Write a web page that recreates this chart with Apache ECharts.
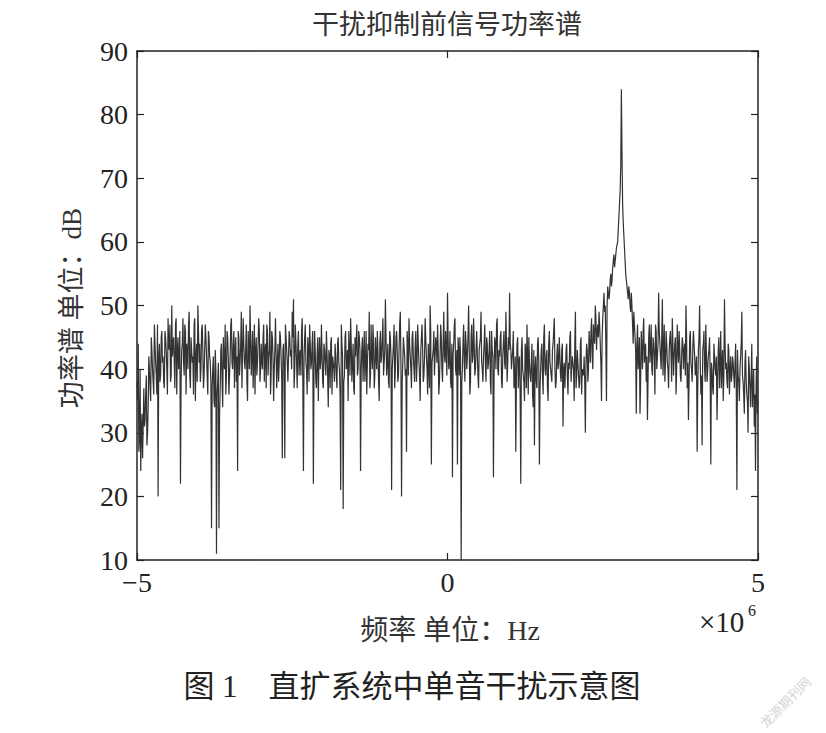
<!DOCTYPE html>
<html>
<head>
<meta charset="utf-8">
<script src="https://cdn.jsdelivr.net/npm/echarts@6/dist/echarts.min.js"></script>
<style>
html,body{margin:0;padding:0;background:#fff;}
#chart{width:826px;height:733px;}
</style>
</head>
<body>
<div id="chart"></div>
<script>
// Frequency bins (MHz, i.e. x10^6 Hz): even bins at -5 + 0.02*i, odd bins half a step later
const freqStart = -5;
const freqStep = 0.01;
// Power spectrum values (dB) on the even bins
const powerDbEven = [
38,44,29,24,33,26,31,36,28,34,40,35,43,38,47,41,36,20,44,39,
46,42,37,45,40,48,43,38,50,44,41,47,36,45,42,22,43,48,39,46,
44,40,49,37,45,42,47,35,44,50,41,38,46,43,39,47,42,36,45,41,
15,40,35,43,11,38,15,37,44,34,41,47,39,45,36,42,48,40,46,43,
38,24,45,41,49,37,44,40,47,35,43,50,39,46,42,36,45,41,48,38,
44,40,47,43,37,46,42,49,39,45,35,43,48,41,38,46,42,26,44,26,
47,41,38,45,43,49,51,40,44,37,46,42,39,48,24,45,41,36,43,47,
40,44,22,46,38,42,35,45,41,47,37,43,39,46,34,42,44,36,41,38,
42,37,45,40,21,44,18,39,46,41,35,43,48,38,44,36,42,47,40,45,
24,43,38,46,41,36,44,49,39,42,47,37,45,40,43,35,46,42,48,41,
51,39,44,37,45,21,42,47,40,46,38,43,49,20,41,45,39,27,44,48,
42,37,46,40,44,38,47,41,35,45,43,39,48,42,36,44,50,25,41,46,
39,44,47,36,42,45,38,49,41,43,52,40,46,37,23,44,48,39,25,43,
45,9,40,47,38,44,42,50,36,45,41,48,39,43,46,37,44,49,40,42,
47,38,44,41,46,36,43,23,45,40,48,39,42,46,37,44,41,49,38,45,
52,43,40,46,38,27,44,37,42,22,45,39,35,43,47,36,41,38,44,34,
28,42,37,45,25,40,44,36,47,39,43,35,46,41,38,44,48,37,42,40,
45,39,43,31,41,37,44,36,40,46,38,42,35,49,39,41,37,44,36,40,
42,30,44,38,46,41,48,40,45,50,43,47,49,44,35,48,52,50,35,53,
51,54,53,56,58,57,59,60,64,68,84,66,61,57,54,52,53,50,52,47,
49,45,33,47,42,33,46,40,48,43,38,32,45,41,47,39,44,36,46,42,
52,44,40,51,43,38,46,41,37,45,42,48,39,44,36,47,41,43,38,45,
40,44,50,37,32,45,41,38,46,42,39,27,43,50,36,28,44,40,47,38,
42,45,25,40,36,44,39,32,43,37,46,41,35,51,40,38,44,36,42,39,
41,37,44,21,39,35,42,49,38,33,43,36,30,40,34,44,37,31,24,42,35
];
// Power spectrum values (dB) on the odd bins
const powerDbOdd = [
35,27,40,30,26,37,32,39,30,42,37,45,40,36,44,39,47,42,38,45,
41,38,46,43,36,44,47,39,42,45,37,48,43,40,46,38,44,41,47,36,
43,47,39,45,41,36,48,42,38,46,44,40,47,37,43,45,39,46,42,38,
37,42,34,40,36,41,33,43,38,45,40,36,46,42,39,47,41,44,37,45,
42,46,39,44,37,48,41,43,38,46,40,45,42,37,47,43,39,44,46,40,
41,45,38,44,47,39,43,36,46,42,40,48,37,44,41,45,39,43,40,47,
43,38,46,42,40,45,37,47,41,44,39,43,46,38,42,47,40,45,38,44,
41,46,39,43,37,45,42,40,47,38,44,41,46,39,43,37,45,42,40,44,
39,44,41,36,47,42,38,45,40,43,46,39,44,41,37,45,42,39,46,43,
40,45,42,38,46,41,43,37,47,40,44,39,42,46,38,44,41,45,39,43,
45,41,38,46,42,40,44,37,45,43,39,47,41,38,45,42,40,46,39,44,
40,45,42,38,46,41,44,39,43,47,38,42,45,40,44,37,46,41,43,39,
45,41,43,38,47,40,44,42,46,39,45,41,38,44,42,47,40,43,45,39,
42,38,44,41,46,40,45,43,38,47,42,44,40,46,39,43,45,41,38,44,
41,45,40,43,38,46,42,39,44,47,40,43,45,38,42,46,40,44,41,43,
44,40,43,37,42,39,45,41,36,43,40,38,44,37,42,45,39,41,36,43,
40,38,44,41,37,43,39,45,40,42,37,44,41,39,43,46,40,38,44,41,
42,38,44,40,37,43,39,41,45,38,42,40,44,37,43,41,38,45,40,39,
38,41,43,40,44,46,42,47,44,48,46,45,47,41,45,50,49,44,50,52,
52,55,54,57,56,58,59,62,66,72,74,63,59,55,53,51,52,49,50,44,
47,43,44,40,45,38,43,46,41,44,42,39,47,43,40,45,42,47,40,44,
46,42,45,39,47,41,44,40,43,46,38,44,42,45,40,43,46,39,42,44,
43,39,45,41,38,46,40,43,44,39,42,37,45,41,39,43,46,38,42,40,
43,39,41,37,44,40,42,38,45,41,37,43,39,44,41,37,43,40,38,42,
39,41,37,43,38,40,44,39,36,41,38,35,42,37,39,34,40,36,38,33
];
const xTicks = [-5, 0, 5];
const yTicks = [10, 20, 30, 40, 50, 60, 70, 80, 90];

const titleText = '干扰抑制前信号功率谱';
const xName = '频率 单位：Hz';
const yName = '功率谱 单位：dB';
const captionText = '图 1　直扩系统中单音干扰示意图';
const watermark = '龙源期刊网';

const seriesData = [];
powerDbEven.forEach((v, i) => {
  seriesData.push([freqStart + 2 * i * freqStep, v]);
  if (i < powerDbOdd.length) seriesData.push([freqStart + (2 * i + 1) * freqStep, powerDbOdd[i]]);
});

const serif = '"Liberation Serif", "DejaVu Serif", serif';
const cjk = '"Liberation Serif", "Noto Sans CJK SC", sans-serif';
const axisColor = '#222';

function xAxisCfg(pos, showLabel) {
  return {
    type: 'value', position: pos,
    min: xTicks[0], max: xTicks[xTicks.length - 1], interval: 5,
    axisLine: {show: true, onZero: false, lineStyle: {color: axisColor, width: 1.5}},
    axisTick: {show: true, inside: true, length: 7, lineStyle: {color: axisColor, width: 1.2}},
    axisLabel: {show: showLabel, color: '#222', fontFamily: serif, fontSize: 28, margin: 8,
      formatter: v => (v < 0 ? '\u2212' + Math.abs(v) : String(v))},
    splitLine: {show: false}
  };
}
function yAxisCfg(pos, showLabel) {
  return {
    type: 'value', position: pos,
    min: yTicks[0], max: yTicks[yTicks.length - 1], interval: 10,
    axisLine: {show: true, onZero: false, lineStyle: {color: axisColor, width: 1.5}},
    axisTick: {show: true, inside: true, length: 7, lineStyle: {color: axisColor, width: 1.2}},
    axisLabel: {show: showLabel, color: '#222', fontFamily: serif, fontSize: 28, margin: 9},
    splitLine: {show: false}
  };
}

const chart = echarts.init(document.getElementById('chart'), null, {renderer: 'svg'});
chart.setOption({
  animation: false,
  backgroundColor: '#fff',
  grid: {left: 137, right: 68, top: 51, bottom: 173},
  xAxis: [xAxisCfg('bottom', true), xAxisCfg('top', false)],
  yAxis: [yAxisCfg('left', true), yAxisCfg('right', false)],
  series: [{
    type: 'line', data: seriesData, xAxisIndex: 0, yAxisIndex: 0,
    showSymbol: false, symbol: 'none', clip: true,
    lineStyle: {color: '#333', width: 1.2}
  }],
  graphic: [
    {type: 'text', x: 447, y: 25, style: {text: titleText, font: '27px ' + cjk, fill: '#333', align: 'center', verticalAlign: 'middle'}},
    {type: 'text', x: 72, y: 308, rotation: Math.PI / 2,
      style: {text: yName, font: '27px ' + cjk, fill: '#333', align: 'center', verticalAlign: 'middle'}},
    {type: 'text', x: 450, y: 630, style: {text: xName, font: '28px ' + cjk, fill: '#333', align: 'center', verticalAlign: 'middle'}},
    {type: 'text', x: 699, y: 622, style: {text: '×10', font: '29px ' + serif, fill: '#222', align: 'left', verticalAlign: 'middle'}},
    {type: 'text', x: 748, y: 610, style: {text: '6', font: '16px ' + serif, fill: '#222', align: 'left', verticalAlign: 'middle'}},
    {type: 'text', x: 412, y: 686, style: {text: captionText, font: '31px ' + cjk, fill: '#222', align: 'center', verticalAlign: 'middle'}},
    {type: 'text', x: 785, y: 702, rotation: Math.PI / 4,
      style: {text: watermark, font: '13px "Noto Sans CJK SC", sans-serif', fill: '#d4d4d4', align: 'center', verticalAlign: 'middle'}}
  ]
});
</script>
</body>
</html>
